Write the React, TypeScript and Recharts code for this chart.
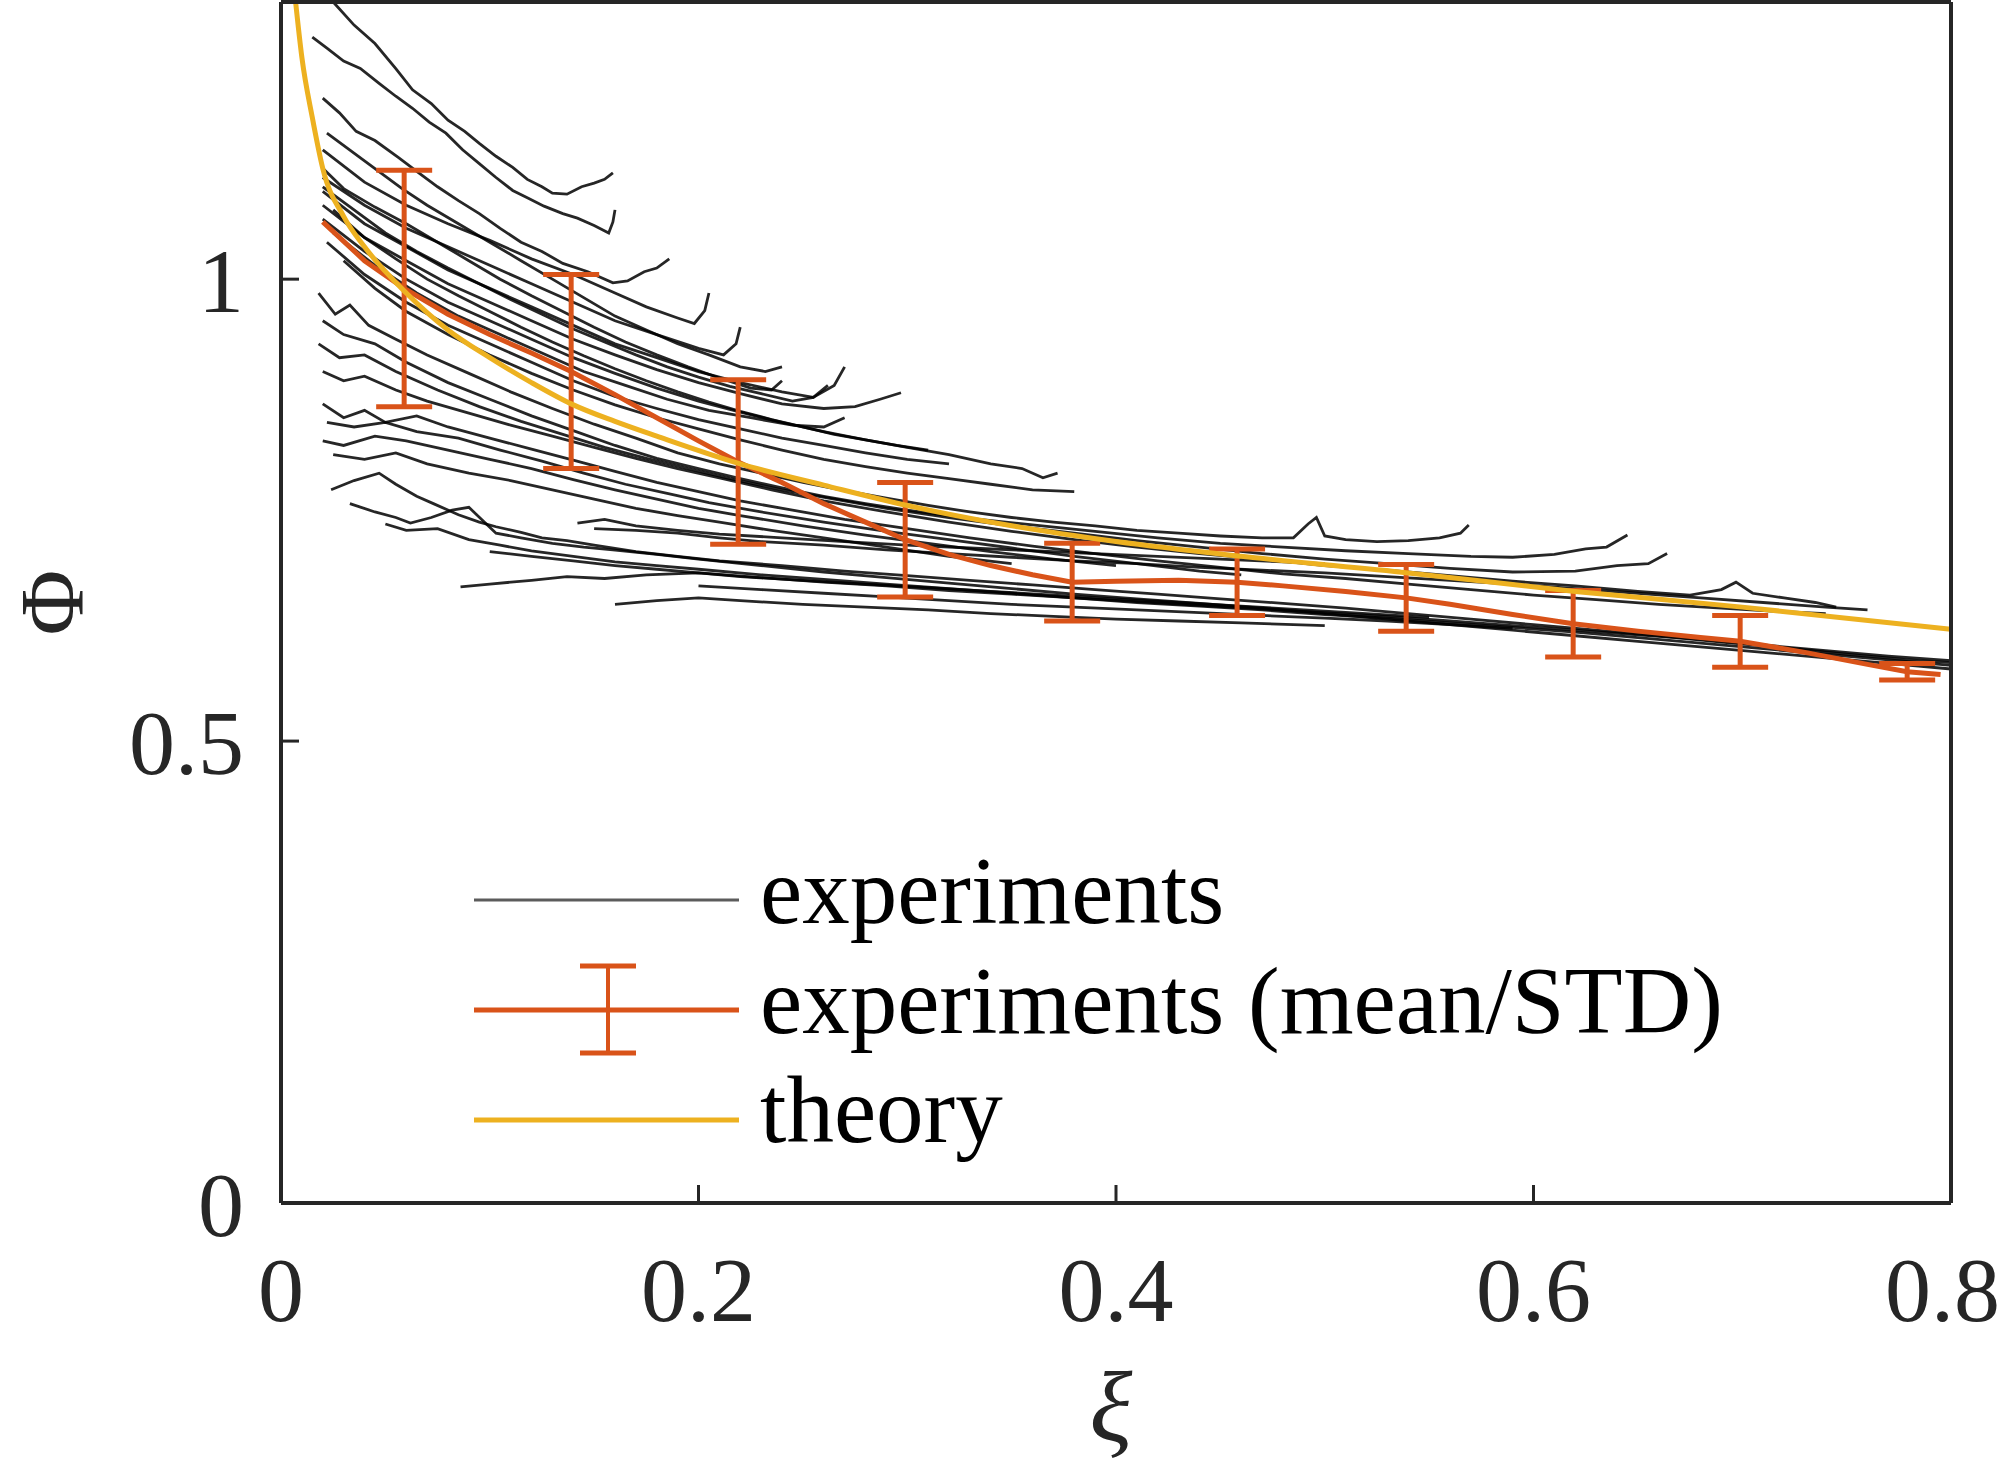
import React from 'react';
import { LineChart, Line, XAxis, YAxis, ErrorBar, Legend } from 'recharts';

// individual experiment runs, [xi, Phi]
const runU1 = [[0.025,1.3],[0.035,1.275],[0.045,1.255],[0.055,1.228],[0.063,1.205],[0.072,1.19],[0.08,1.172],[0.088,1.16],[0.095,1.147],[0.103,1.133],[0.111,1.121],[0.118,1.108],[0.125,1.1],[0.13,1.093],[0.137,1.092],[0.144,1.1],[0.15,1.104],[0.155,1.108],[0.159,1.115]];
const runU2 = [[0.015,1.262],[0.022,1.25],[0.03,1.236],[0.038,1.228],[0.047,1.212],[0.055,1.198],[0.063,1.185],[0.071,1.17],[0.079,1.158],[0.087,1.14],[0.095,1.125],[0.103,1.11],[0.111,1.096],[0.118,1.088],[0.126,1.079],[0.135,1.071],[0.142,1.066],[0.15,1.058],[0.157,1.05],[0.159,1.062],[0.16,1.075]];
const runU3 = [[0.02,1.196],[0.028,1.18],[0.036,1.16],[0.045,1.15],[0.056,1.132],[0.066,1.115],[0.075,1.1],[0.085,1.085],[0.095,1.071],[0.105,1.055],[0.115,1.04],[0.125,1.03],[0.135,1.017],[0.147,1.008],[0.159,0.996],[0.166,0.998],[0.174,1.008],[0.18,1.012],[0.186,1.022]];
const runU4 = [[0.022,1.158],[0.034,1.138],[0.046,1.118],[0.058,1.098],[0.07,1.08],[0.085,1.06],[0.1,1.04],[0.115,1.02],[0.13,1.0],[0.145,0.98],[0.16,0.96],[0.175,0.945],[0.19,0.93],[0.205,0.918],[0.22,0.905],[0.232,0.9],[0.24,0.905]];
const runU5 = [[0.02,1.14],[0.04,1.105],[0.06,1.08],[0.08,1.06],[0.1,1.042],[0.12,1.022],[0.14,1.005],[0.16,0.985],[0.175,0.97],[0.19,0.958],[0.198,0.952],[0.203,0.966],[0.205,0.985]];
const runU6 = [[0.02,1.11],[0.04,1.08],[0.06,1.055],[0.08,1.035],[0.1,1.015],[0.12,0.995],[0.14,0.975],[0.16,0.955],[0.18,0.94],[0.2,0.925],[0.212,0.918],[0.218,0.93],[0.22,0.948]];
const runU7 = [[0.02,1.095],[0.04,1.06],[0.06,1.035],[0.08,1.01],[0.1,0.99],[0.12,0.97],[0.14,0.95],[0.16,0.93],[0.18,0.915],[0.2,0.9],[0.22,0.888],[0.24,0.878],[0.255,0.872],[0.265,0.885],[0.27,0.905]];
const runU8 = [[0.02,1.08],[0.04,1.045],[0.06,1.02],[0.08,0.995],[0.1,0.975],[0.12,0.955],[0.14,0.935],[0.16,0.918],[0.18,0.902],[0.2,0.888],[0.22,0.876],[0.24,0.865],[0.26,0.86],[0.275,0.862],[0.287,0.87],[0.297,0.877]];
const runU9 = [[0.02,1.065],[0.04,1.03],[0.06,1.0],[0.08,0.975],[0.1,0.955],[0.12,0.935],[0.14,0.915],[0.16,0.898],[0.18,0.882],[0.2,0.868],[0.22,0.856],[0.24,0.845],[0.26,0.835],[0.28,0.826],[0.3,0.818],[0.32,0.81],[0.34,0.8],[0.355,0.795],[0.365,0.785],[0.372,0.79]];
const runU10 = [[0.025,1.05],[0.045,1.015],[0.065,0.985],[0.085,0.96],[0.105,0.94],[0.125,0.92],[0.145,0.9],[0.165,0.885],[0.185,0.87],[0.205,0.858],[0.225,0.85],[0.245,0.842],[0.26,0.84],[0.27,0.85]];
const runU11 = [[0.022,1.04],[0.04,1.005],[0.06,0.975],[0.08,0.95],[0.1,0.93],[0.12,0.91],[0.14,0.89],[0.16,0.873],[0.18,0.86],[0.2,0.848],[0.22,0.838],[0.24,0.828],[0.26,0.82],[0.28,0.812],[0.3,0.805],[0.32,0.8]];
const runU12 = [[0.02,1.12],[0.03,1.098],[0.045,1.078],[0.06,1.06],[0.075,1.04],[0.09,1.02],[0.105,1.0],[0.12,0.982],[0.135,0.965],[0.15,0.948],[0.165,0.932],[0.18,0.918],[0.195,0.905],[0.21,0.893],[0.225,0.882],[0.235,0.88],[0.24,0.89]];
const runU13 = [[0.03,1.02],[0.045,0.99],[0.06,0.965],[0.08,0.94],[0.1,0.918],[0.12,0.898],[0.14,0.88],[0.16,0.864],[0.18,0.85],[0.2,0.838],[0.22,0.826],[0.24,0.815],[0.26,0.805],[0.28,0.797],[0.3,0.79],[0.32,0.784],[0.34,0.778],[0.36,0.772],[0.38,0.77]];
const runU14 = [[0.02,1.1],[0.035,1.075],[0.05,1.05],[0.065,1.03],[0.08,1.012],[0.095,0.995],[0.11,0.978],[0.125,0.962],[0.14,0.946],[0.155,0.932],[0.17,0.918],[0.185,0.905],[0.2,0.894],[0.215,0.884],[0.23,0.876],[0.245,0.868],[0.255,0.872],[0.262,0.885]];
const runU15 = [[0.025,1.075],[0.04,1.045],[0.055,1.022],[0.07,1.0],[0.085,0.982],[0.1,0.965],[0.115,0.948],[0.13,0.932],[0.145,0.917],[0.16,0.903],[0.175,0.89],[0.19,0.878],[0.205,0.867],[0.22,0.857],[0.235,0.848],[0.25,0.84],[0.265,0.832],[0.28,0.826],[0.295,0.82],[0.31,0.815]];
const runM1 = [[0.018,0.985],[0.026,0.962],[0.033,0.972],[0.042,0.95],[0.055,0.935],[0.07,0.918],[0.09,0.898],[0.11,0.878],[0.13,0.86],[0.15,0.843],[0.17,0.828],[0.19,0.812],[0.21,0.8],[0.23,0.79],[0.25,0.78],[0.27,0.771],[0.29,0.763],[0.31,0.755],[0.33,0.748],[0.35,0.742],[0.37,0.737],[0.39,0.733],[0.41,0.728],[0.43,0.725],[0.45,0.722],[0.47,0.72],[0.485,0.72],[0.492,0.735],[0.496,0.742],[0.5,0.722],[0.51,0.718],[0.525,0.716],[0.54,0.717],[0.555,0.72],[0.565,0.725],[0.569,0.734]];
const runM2 = [[0.02,0.955],[0.03,0.94],[0.045,0.93],[0.06,0.91],[0.08,0.888],[0.1,0.87],[0.12,0.852],[0.14,0.836],[0.16,0.82],[0.18,0.806],[0.2,0.795],[0.22,0.784],[0.24,0.774],[0.26,0.765],[0.28,0.757],[0.3,0.75],[0.33,0.741],[0.36,0.734],[0.39,0.727],[0.42,0.72],[0.45,0.714],[0.48,0.71],[0.51,0.706],[0.54,0.703],[0.57,0.7],[0.59,0.699],[0.61,0.702],[0.625,0.708],[0.635,0.71],[0.645,0.723]];
const runM3 = [[0.018,0.93],[0.028,0.915],[0.04,0.918],[0.055,0.9],[0.075,0.88],[0.095,0.862],[0.115,0.846],[0.135,0.832],[0.155,0.818],[0.175,0.806],[0.195,0.795],[0.215,0.784],[0.24,0.772],[0.265,0.762],[0.29,0.752],[0.32,0.742],[0.35,0.733],[0.38,0.725],[0.41,0.717],[0.44,0.71],[0.47,0.703],[0.5,0.697],[0.53,0.692],[0.56,0.687],[0.59,0.683],[0.62,0.684],[0.64,0.69],[0.655,0.692],[0.664,0.703]];
const runM4 = [[0.02,0.9],[0.03,0.89],[0.04,0.895],[0.055,0.88],[0.07,0.868],[0.09,0.855],[0.11,0.842],[0.13,0.83],[0.15,0.818],[0.17,0.806],[0.19,0.795],[0.21,0.785],[0.235,0.772],[0.26,0.76],[0.29,0.748],[0.32,0.737],[0.35,0.727],[0.38,0.718],[0.41,0.71],[0.44,0.703],[0.47,0.697],[0.5,0.69],[0.53,0.685],[0.56,0.679],[0.59,0.673],[0.62,0.668],[0.65,0.662],[0.675,0.658],[0.69,0.664],[0.697,0.672],[0.705,0.66],[0.72,0.655],[0.735,0.65],[0.745,0.645]];
const runM5 = [[0.02,0.865],[0.03,0.85],[0.04,0.858],[0.05,0.845],[0.065,0.852],[0.08,0.84],[0.1,0.828],[0.12,0.816],[0.14,0.804],[0.16,0.792],[0.18,0.78],[0.2,0.77],[0.22,0.76],[0.245,0.75],[0.27,0.74],[0.3,0.73],[0.33,0.72],[0.36,0.711],[0.39,0.703],[0.42,0.695],[0.45,0.688],[0.48,0.681],[0.51,0.676],[0.54,0.67],[0.57,0.664],[0.6,0.658],[0.63,0.653],[0.66,0.648],[0.69,0.644],[0.72,0.64],[0.74,0.638]];
const runM6 = [[0.022,0.845],[0.035,0.84],[0.05,0.845],[0.065,0.835],[0.085,0.828],[0.105,0.815],[0.125,0.803],[0.145,0.79],[0.165,0.778],[0.185,0.768],[0.205,0.758],[0.23,0.748],[0.26,0.737],[0.29,0.727],[0.32,0.718],[0.35,0.709],[0.38,0.7],[0.41,0.692],[0.44,0.684],[0.46,0.68]];
const runM7 = [[0.02,0.825],[0.03,0.82],[0.045,0.83],[0.06,0.825],[0.08,0.815],[0.1,0.805],[0.12,0.795],[0.14,0.783],[0.16,0.772],[0.18,0.762],[0.2,0.752],[0.22,0.744],[0.25,0.733],[0.28,0.723],[0.31,0.714],[0.34,0.705],[0.37,0.697],[0.4,0.69]];
const runM8 = [[0.025,0.81],[0.04,0.805],[0.055,0.812],[0.07,0.8],[0.09,0.79],[0.11,0.782],[0.13,0.772],[0.15,0.762],[0.17,0.752],[0.19,0.744],[0.21,0.737],[0.235,0.728],[0.26,0.72],[0.29,0.71],[0.32,0.7],[0.35,0.692]];
const runL1 = [[0.024,0.772],[0.035,0.782],[0.047,0.79],[0.055,0.778],[0.065,0.765],[0.073,0.757],[0.085,0.745],[0.095,0.737],[0.103,0.732],[0.115,0.726],[0.125,0.72],[0.137,0.717],[0.15,0.712],[0.17,0.705],[0.19,0.7],[0.21,0.695],[0.24,0.69],[0.27,0.684],[0.3,0.679],[0.33,0.674],[0.36,0.669],[0.39,0.664],[0.42,0.659],[0.45,0.654],[0.48,0.649],[0.51,0.644],[0.54,0.638],[0.57,0.632],[0.6,0.626],[0.63,0.62],[0.66,0.614],[0.69,0.607],[0.72,0.601],[0.75,0.594],[0.78,0.588],[0.8,0.585]];
const runL2 = [[0.033,0.757],[0.045,0.748],[0.055,0.742],[0.062,0.736],[0.072,0.742],[0.082,0.75],[0.09,0.753],[0.097,0.738],[0.103,0.725],[0.115,0.72],[0.13,0.714],[0.145,0.71],[0.159,0.707],[0.18,0.702],[0.2,0.697],[0.23,0.69],[0.26,0.683],[0.29,0.677],[0.32,0.671],[0.35,0.665],[0.38,0.659],[0.41,0.654],[0.44,0.649],[0.47,0.644],[0.5,0.638],[0.53,0.632],[0.56,0.626],[0.59,0.62],[0.62,0.614],[0.65,0.608],[0.68,0.602],[0.71,0.596],[0.74,0.59],[0.77,0.584],[0.8,0.578]];
const runL3 = [[0.086,0.667],[0.1,0.67],[0.12,0.674],[0.137,0.678],[0.155,0.676],[0.175,0.68],[0.2,0.682],[0.22,0.678],[0.25,0.674],[0.28,0.67],[0.31,0.666],[0.34,0.662],[0.37,0.658],[0.4,0.654],[0.43,0.65],[0.46,0.646],[0.49,0.642],[0.52,0.638],[0.55,0.634]];
const runL4 = [[0.142,0.736],[0.155,0.74],[0.17,0.733],[0.19,0.728],[0.21,0.724],[0.24,0.72],[0.27,0.716],[0.3,0.712],[0.33,0.709],[0.36,0.706],[0.39,0.703],[0.42,0.7],[0.45,0.697],[0.48,0.694],[0.5,0.692]];
const runL5 = [[0.16,0.648],[0.18,0.652],[0.2,0.655],[0.22,0.652],[0.25,0.648],[0.28,0.645],[0.31,0.642],[0.34,0.638],[0.37,0.635],[0.4,0.632],[0.43,0.63],[0.46,0.628],[0.5,0.625]];
const runL6 = [[0.05,0.735],[0.06,0.728],[0.075,0.73],[0.09,0.718],[0.105,0.712],[0.12,0.706],[0.14,0.7],[0.16,0.694],[0.18,0.69],[0.2,0.686],[0.23,0.68],[0.26,0.675],[0.29,0.67],[0.32,0.665],[0.35,0.66],[0.38,0.655],[0.41,0.651],[0.44,0.647],[0.47,0.643],[0.5,0.639],[0.53,0.635],[0.56,0.63],[0.59,0.625],[0.62,0.62],[0.65,0.615],[0.68,0.61],[0.71,0.604],[0.74,0.598],[0.77,0.592],[0.8,0.587]];
const runL7 = [[0.15,0.73],[0.17,0.728],[0.19,0.725],[0.21,0.72],[0.23,0.716],[0.26,0.712],[0.29,0.707],[0.32,0.703],[0.35,0.699],[0.38,0.695],[0.41,0.692],[0.44,0.688],[0.47,0.685],[0.5,0.682],[0.53,0.678],[0.56,0.674],[0.59,0.67],[0.62,0.665],[0.65,0.66],[0.68,0.655],[0.71,0.65],[0.74,0.645],[0.76,0.642]];
const runL8 = [[0.1,0.705],[0.12,0.7],[0.14,0.695],[0.16,0.69],[0.18,0.686],[0.2,0.682],[0.23,0.677],[0.26,0.672],[0.29,0.668],[0.32,0.663],[0.35,0.659],[0.38,0.655],[0.41,0.65],[0.44,0.646],[0.47,0.642],[0.5,0.637],[0.53,0.633],[0.56,0.628],[0.59,0.623],[0.62,0.618],[0.65,0.612],[0.68,0.606],[0.71,0.6],[0.74,0.594],[0.77,0.588],[0.8,0.582]];
const runL9 = [[0.2,0.668],[0.23,0.664],[0.26,0.66],[0.29,0.656],[0.32,0.652],[0.35,0.648],[0.38,0.645],[0.41,0.642],[0.44,0.639],[0.47,0.636],[0.5,0.633],[0.53,0.63],[0.56,0.626],[0.59,0.622]];

const runs = [runU1, runU2, runU3, runU4, runU5, runU6, runU7, runU8, runU9, runU10, runU11, runU12, runU13, runU14, runU15,
  runM1, runM2, runM3, runM4, runM5, runM6, runM7, runM8, runL1, runL2, runL3, runL4, runL5, runL6, runL7, runL8, runL9];

// mean curve
const meanXi = [0.02,0.04,0.059,0.08,0.1,0.12,0.139,0.16,0.18,0.2,0.219,0.24,0.26,0.28,0.299,0.32,0.34,0.36,0.379,0.4,0.43,0.458,0.48,0.51,0.539,0.56,0.59,0.619,0.65,0.68,0.699,0.73,0.76,0.779,0.795];
const meanPhi = [1.062,1.02,0.99,0.962,0.94,0.92,0.9,0.875,0.85,0.825,0.802,0.78,0.757,0.737,0.718,0.702,0.69,0.68,0.672,0.673,0.674,0.672,0.668,0.662,0.655,0.648,0.637,0.627,0.619,0.612,0.608,0.596,0.583,0.575,0.572];

// error bar positions, mean and STD
const barXi = [0.059,0.139,0.219,0.299,0.379,0.458,0.539,0.619,0.699,0.779];
const barMean = [0.99,0.9,0.802,0.718,0.672,0.672,0.655,0.627,0.608,0.575];
const barStd = [0.128,0.105,0.089,0.062,0.042,0.036,0.036,0.036,0.028,0.009];

// theory
const theoryXi = [0.007,0.01,0.015,0.02,0.03,0.04,0.06,0.08,0.1,0.12,0.139,0.16,0.18,0.22,0.26,0.3,0.35,0.4,0.46,0.54,0.62,0.7,0.8];
const theoryPhi = [1.3,1.24,1.175,1.12,1.068,1.035,0.985,0.945,0.915,0.888,0.865,0.846,0.83,0.8,0.777,0.755,0.733,0.716,0.7,0.682,0.662,0.645,0.621];

const xTicks = [0, 0.2, 0.4, 0.6, 0.8];
const yTicks = [0, 0.5, 1];
const legendItems = ['experiments', 'experiments (mean/STD)', 'theory'];

const RED = '#D95319';
const YELLOW = '#EDB120';
const AXIS = '#262626';
const FONT = '"Liberation Serif", "Times New Roman", serif';

const toPts = (a: number[][]) => a.map(([x, y]) => ({ x, y }));
const meanData = meanXi.map((x, i) => ({ x, y: meanPhi[i] }));
const barData = barXi.map((x, i) => ({ x, y: barMean[i], err: barStd[i] }));
const theoryData = theoryXi.map((x, i) => ({ x, y: theoryPhi[i] }));

const tickStyle = { fill: AXIS, fontSize: 92, fontFamily: FONT };
const axisLineStyle = { stroke: AXIS, strokeWidth: 4 };
const tickLineStyle = { stroke: AXIS, strokeWidth: 3 };

const PhiLabel = (props: any) => {
  const vb = props.viewBox || { x: 0, y: 0, width: 281, height: 1203 };
  const cx = vb.x + 52;
  const cy = vb.y + vb.height / 2;
  return (
    <text x={cx} y={cy} transform={`rotate(-90 ${cx} ${cy})`} textAnchor="middle" dominantBaseline="central"
      fill={AXIS} fontSize={90} fontFamily={FONT}>Φ</text>
  );
};

const XiLabel = (props: any) => {
  const vb = props.viewBox || { x: 281, y: 1203, width: 1670, height: 265 };
  return (
    <text x={vb.x + vb.width / 2 - 5} y={vb.y + 237} textAnchor="middle" fill={AXIS} fontSize={100}
      fontFamily={FONT} fontStyle="italic">ξ</text>
  );
};

const renderLegend = () => (
  <svg width={1400} height={370}>
    <line x1={4} x2={269} y1={70} y2={70} stroke="#5c5c5c" strokeWidth={3} />
    <line x1={4} x2={269} y1={180} y2={180} stroke={RED} strokeWidth={5} />
    <line x1={138} x2={138} y1={136} y2={223} stroke={RED} strokeWidth={4} />
    <line x1={110} x2={166} y1={136} y2={136} stroke={RED} strokeWidth={5} />
    <line x1={110} x2={166} y1={223} y2={223} stroke={RED} strokeWidth={5} />
    <line x1={4} x2={269} y1={290} y2={290} stroke={YELLOW} strokeWidth={5} />
    {legendItems.map((t, i) => (
      <text key={t} x={290} y={[93, 203, 312][i]} fill="#000" fontSize={95} fontFamily={FONT}>{t}</text>
    ))}
  </svg>
);

const App: React.FC = () => {
  return (
    <div style={{ position: 'absolute', left: 0, top: 0, width: 2000, height: 1468, background: '#fff' }}>
      <LineChart width={2000} height={1468} margin={{ top: 0, right: 47, bottom: 0, left: 0 }}>
        <XAxis dataKey="x" type="number" domain={[0, 0.8]} ticks={xTicks} height={265}
          axisLine={axisLineStyle} tickSize={-18} tickMargin={71}
          tickLine={tickLineStyle} tick={tickStyle} label={XiLabel} />
        <XAxis xAxisId="top" dataKey="x" orientation="top" type="number" domain={[0, 0.8]} ticks={xTicks} height={2}
          axisLine={axisLineStyle} tickSize={-18} tick={false} tickLine={tickLineStyle} />
        <YAxis type="number" domain={[0, 1.3]} ticks={yTicks} width={281}
          axisLine={axisLineStyle} tickSize={-18} tickMargin={55}
          tickLine={tickLineStyle} tick={tickStyle} label={PhiLabel} />
        <YAxis yAxisId="right" orientation="right" type="number" domain={[0, 1.3]} ticks={yTicks} width={2}
          axisLine={axisLineStyle} tickSize={-18} tick={false} tickLine={tickLineStyle} />
        {runs.map((r, i) => (
          <Line key={`run${i}`} data={toPts(r)} dataKey="y" type="linear" stroke="#000" strokeOpacity={0.85}
            strokeWidth={2.8} dot={false} activeDot={false} isAnimationActive={false} legendType="none" />
        ))}
        <Line data={meanData} dataKey="y" type="linear" stroke={RED} strokeWidth={5} dot={false}
          activeDot={false} isAnimationActive={false} />
        <Line data={barData} dataKey="y" type="linear" stroke="none" dot={false} activeDot={false}
          isAnimationActive={false}>
          <ErrorBar dataKey="err" width={28} stroke={RED} strokeWidth={5} direction="y" isAnimationActive={false} />
        </Line>
        <Line data={theoryData} dataKey="y" type="monotone" stroke={YELLOW} strokeWidth={5} dot={false}
          activeDot={false} isAnimationActive={false} />
        {/* invisible series that ties the box axes (top, right) to the same scales */}
        <Line data={theoryData} dataKey="y" xAxisId="top" yAxisId="right" stroke="none" dot={false}
          activeDot={false} isAnimationActive={false} legendType="none" />
        <Legend content={renderLegend} layout="vertical" align="center" verticalAlign="middle"
          wrapperStyle={{ position: 'absolute', left: 470, top: 830, width: 1400, height: 370 }} />
      </LineChart>
    </div>
  );
};

export default App;
